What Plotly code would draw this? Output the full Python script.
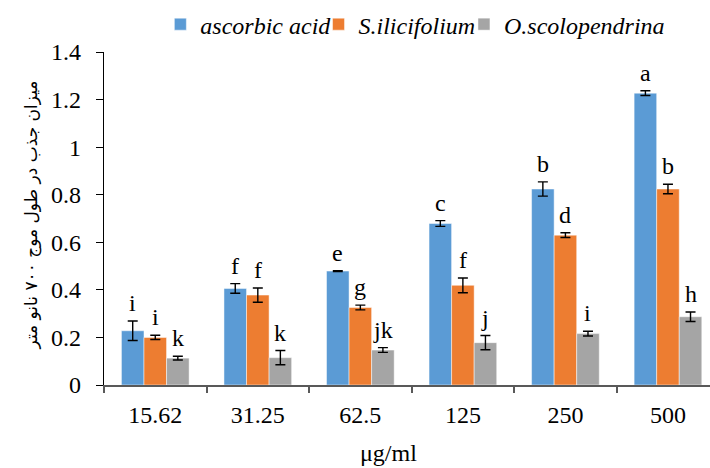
import plotly.graph_objects as go

categories = ["15.62", "31.25", "62.5", "125", "250", "500"]
series_names = ["ascorbic acid", "S.ilicifolium", "O.scolopendrina"]
ascorbic = [0.228, 0.406, 0.479, 0.679, 0.824, 1.227]
ascorbic_err = [0.041, 0.020, 0.002, 0.012, 0.030, 0.010]
ilicifolium = [0.200, 0.378, 0.326, 0.419, 0.630, 0.824]
ilicifolium_err = [0.009, 0.030, 0.010, 0.031, 0.010, 0.020]
scolopendrina = [0.113, 0.115, 0.147, 0.178, 0.216, 0.287]
scolopendrina_err = [0.008, 0.030, 0.010, 0.030, 0.010, 0.020]
letters_ascorbic = ["i", "f", "e", "c", "b", "a"]
letters_ilicifolium = ["i", "f", "g", "f", "d", "b"]
letters_scolopendrina = ["k", "k", "jk", "j", "i", "h"]
y_ticks = [0, 0.2, 0.4, 0.6, 0.8, 1, 1.2, 1.4]

colors = ["#5B9BD5", "#ED7D31", "#A5A5A5"]
values = [ascorbic, ilicifolium, scolopendrina]
errors = [ascorbic_err, ilicifolium_err, scolopendrina_err]
letters = [letters_ascorbic, letters_ilicifolium, letters_scolopendrina]

SERIF = "Liberation Serif"
FS = 24
bargap = 0.34
legend_ids = ["legend", "legend2", "legend3"]
legend_x = [0.093, 0.354, 0.594]

fig = go.Figure()
for name, vals, errs, col, lid in zip(series_names, values, errors, colors, legend_ids):
    fig.add_trace(go.Bar(
        x=categories, y=vals, name=name, legend=lid,
        marker=dict(color=col, line=dict(color="rgba(255,255,255,0.6)", width=0.8)),
        error_y=dict(type="data", array=errs, visible=True, color="#000000",
                     thickness=1.4, width=5),
    ))

bw = (1 - bargap) / 3
annotations = []
for j, (vals, errs, labs) in enumerate(zip(values, errors, letters)):
    for i, (v, e, t) in enumerate(zip(vals, errs, labs)):
        annotations.append(dict(
            x=i + (j - 1) * bw, y=v + e, xref="x", yref="y", text=t,
            showarrow=False, yanchor="bottom", xanchor="center", yshift=3,
            font=dict(family=SERIF, size=FS, color="#000000"),
        ))

annotations.append(dict(
    x=-0.12, y=0.51, xref="paper", yref="paper", xanchor="center", yanchor="middle",
    text="میزان جذب در طول موج ۷۰۰ نانو متر", textangle=-90, showarrow=False,
    font=dict(family="DejaVu Sans", size=17, color="#000000"),
))
annotations.append(dict(
    x=0.469, y=-0.249, xref="paper", yref="paper", text="μg/ml",
    xanchor="center", yanchor="bottom",
    showarrow=False, font=dict(family=SERIF, size=FS, color="#000000"),
))

legend_common = dict(orientation="h", y=1.15, xanchor="left", yanchor="top",
                     font=dict(family=SERIF, size=FS, color="#000000", style="italic"),
                     itemwidth=30, bgcolor="rgba(0,0,0,0)")
fig.update_layout(
    width=710, height=468,
    margin=dict(l=104, r=0, t=52, b=83, autoexpand=False),
    paper_bgcolor="white", plot_bgcolor="white",
    barmode="group", bargap=bargap, bargroupgap=0,
    font=dict(family=SERIF, size=FS, color="#000000"),
    legend=dict(x=legend_x[0], **legend_common),
    legend2=dict(x=legend_x[1], **legend_common),
    legend3=dict(x=legend_x[2], **legend_common),
    annotations=annotations,
    showlegend=True,
)
fig.update_xaxes(
    type="category", range=[-0.5, 5.41], showline=True, linecolor="#595959",
    linewidth=2, ticks="outside", tickson="boundaries", ticklen=6,
    tickcolor="#595959", tickwidth=1.5, showgrid=False, ticklabelstandoff=7,
    tickfont=dict(family=SERIF, size=FS, color="#000000"),
)
fig.update_yaxes(
    range=[0, 1.4], tickvals=y_ticks, showline=True, linecolor="#000000",
    linewidth=1.2, ticks="outside", ticklen=7, tickcolor="#000000",
    showgrid=False, zeroline=False, ticklabelstandoff=10,
    tickfont=dict(family=SERIF, size=FS, color="#000000"),
)
fig.write_html("out.html", config={"displayModeBar": False},
               post_script="document.body.style.margin='0';")
